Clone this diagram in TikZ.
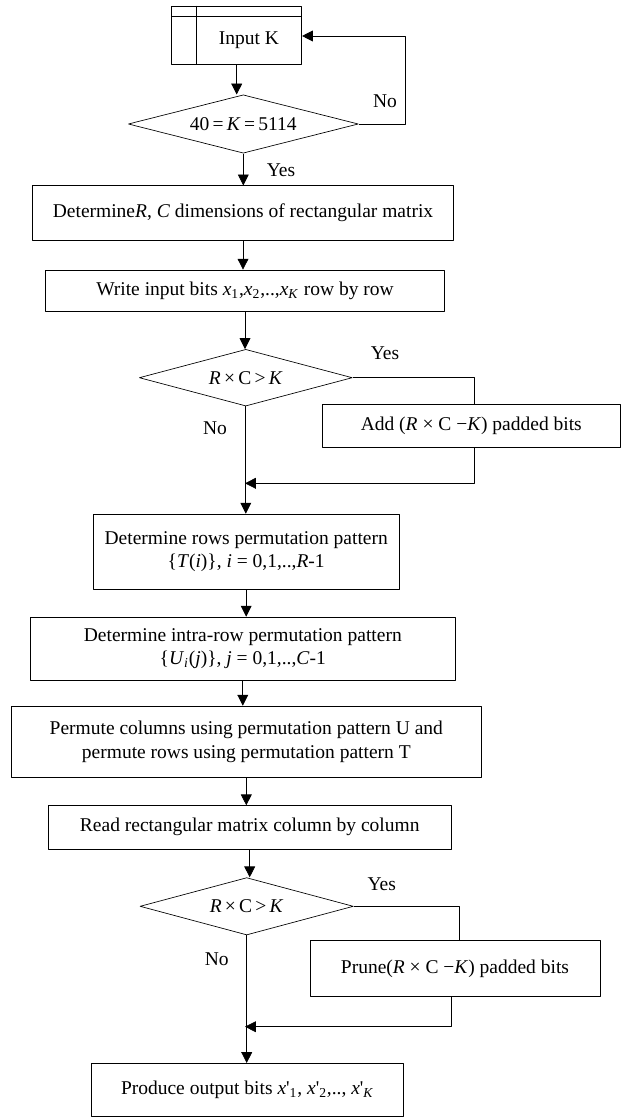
\documentclass[tikz,border=0pt]{standalone}
\usepackage{fontspec}
\setmainfont{Liberation Serif}
\usetikzlibrary{shapes.geometric,arrows.meta}
\tikzset{
  blk/.style={draw,rectangle,inner sep=0pt,align=center},
  dec/.style={draw,diamond,aspect=4,inner sep=0pt},
  lbl/.style={inner sep=0pt}
}
\begin{document}
\begin{tikzpicture}
			[x=0.6pt,y=-0.6pt,line join=round, >={Triangle[length=6.5pt,width=6.5pt]},
			font=\fontsize{11.7}{14}\selectfont]
			\useasboundingbox (0,0) rectangle (621,1118);
			% input and range check
			\node[blk,minimum width=78pt,minimum height=34.8pt] (inp) at (236.7,35) {};
			\draw (inp.north west) ++(0,10.7) -- ++(130,0);
			\draw (inp.north west) ++(25.3,0) -- ++(0,58);
			\node[lbl] (inptxt) at (249,40) {Input K};
			\node[dec,minimum width=138pt,minimum height=35pt] (d1) at (243.3,124)
				{40\,=\,\textit{K}\,=\,5114};
			\coordinate (lp) at (405,36);
			\node[lbl] (no1) at (385,101.7) {No};
			\node[lbl] (yes1) at (281,170) {Yes};
			% matrix set-up
			\node[blk,minimum width=252.4pt,minimum height=32.6pt] (det) at (243,212.9)
				{Determine\textit{R}, \textit{C} dimensions of rectangular matrix};
			\node[blk,minimum width=239.2pt,minimum height=25pt] (wrt) at (245,290.8)
				{Write input bits \textit{x}\textsubscript{1},\textit{x}\textsubscript{2},..,\textit{x}\textsubscript{\textit{K}} row by row};
			\node[dec,minimum width=127.8pt,minimum height=34pt] (d2) at (245.8,377.7)
				{\textit{R}\,×\,C\,>\,\textit{K}};
			\node[blk,minimum width=178.4pt,minimum height=26pt] (add) at (471.3,426)
				{Add (\textit{R} × C −\textit{K}) padded bits};
			\coordinate (j1) at (245,483.3);
			\node[lbl] (yes2) at (385,353.3) {Yes};
			\node[lbl] (no2) at (215,428.3) {No};
			% permutation patterns
			\node[blk,minimum width=183.4pt,minimum height=45pt] (rows) at (246.2,551.5)
				{Determine rows permutation pattern\\ \{\textit{T}(\textit{i})\}, \textit{i} = 0,1,..,\textit{R}-1};
			\node[blk,minimum width=254.6pt,minimum height=37.8pt] (intra) at (242.8,648.5)
				{Determine intra-row permutation pattern\\ \{\textit{U}\textsubscript{\textit{i}}(\textit{j})\}, \textit{j} = 0,1,..,\textit{C}-1};
			\node[blk,minimum width=282.4pt,minimum height=42.8pt] (perm) at (246.3,741.7)
				{Permute columns using permutation pattern U and\\ permute rows using permutation pattern T};
			\node[blk,minimum width=241.6pt,minimum height=26pt] (read) at (249.7,827.3)
				{Read rectangular matrix column by column};
			% pruning and output
			\node[dec,minimum width=128pt,minimum height=34.4pt] (d3) at (246.7,906.3)
				{\textit{R}\,×\,C\,>\,\textit{K}};
			\node[blk,minimum width=174pt,minimum height=34pt] (prn) at (455,968.3)
				{Prune(\textit{R} × C −\textit{K}) padded bits};
			\coordinate (j2) at (245,1026.7);
			\node[lbl] (yes3) at (381.7,884.3) {Yes};
			\node[lbl] (no3) at (216.7,959.3) {No};
			\node[blk,minimum width=187pt,minimum height=32pt] (out) at (247.5,1090)
				{Produce output bits \textit{x}\textquotesingle\textsubscript{1}, \textit{x}\textquotesingle\textsubscript{2},.., \textit{x}\textquotesingle\textsubscript{\textit{K}}};
			% connectors
			\draw[->] (inp) -- (inp |- d1.north);
			\draw[->] (d1.east) -| (lp) -- (inp.east |- lp);
			\draw[->] (d1) -- (d1 |- det.north);
			\draw[->] (det) -- (det |- wrt.north);
			\draw[->] (wrt) -- (wrt |- d2.north);
			\draw (d2.east) -| ([xshift=2pt]add.north);
			\draw[->] ([xshift=2pt]add.south) |- (j1);
			\draw[->] (d2) -- (d2 |- rows.north);
			\draw[->] (rows) -- (rows |- intra.north);
			\draw[->] (intra) -- (intra |- perm.north);
			\draw[->] (perm) -- (perm |- read.north);
			\draw[->] (read) -- (read |- d3.north);
			\draw (d3.east) -| ([xshift=2.5pt]prn.north);
			\draw[->] ([xshift=-2.5pt]prn.south) |- (j2);
			\draw[->] (d3) -- (d3 |- out.north);
		\end{tikzpicture}
\end{document}
